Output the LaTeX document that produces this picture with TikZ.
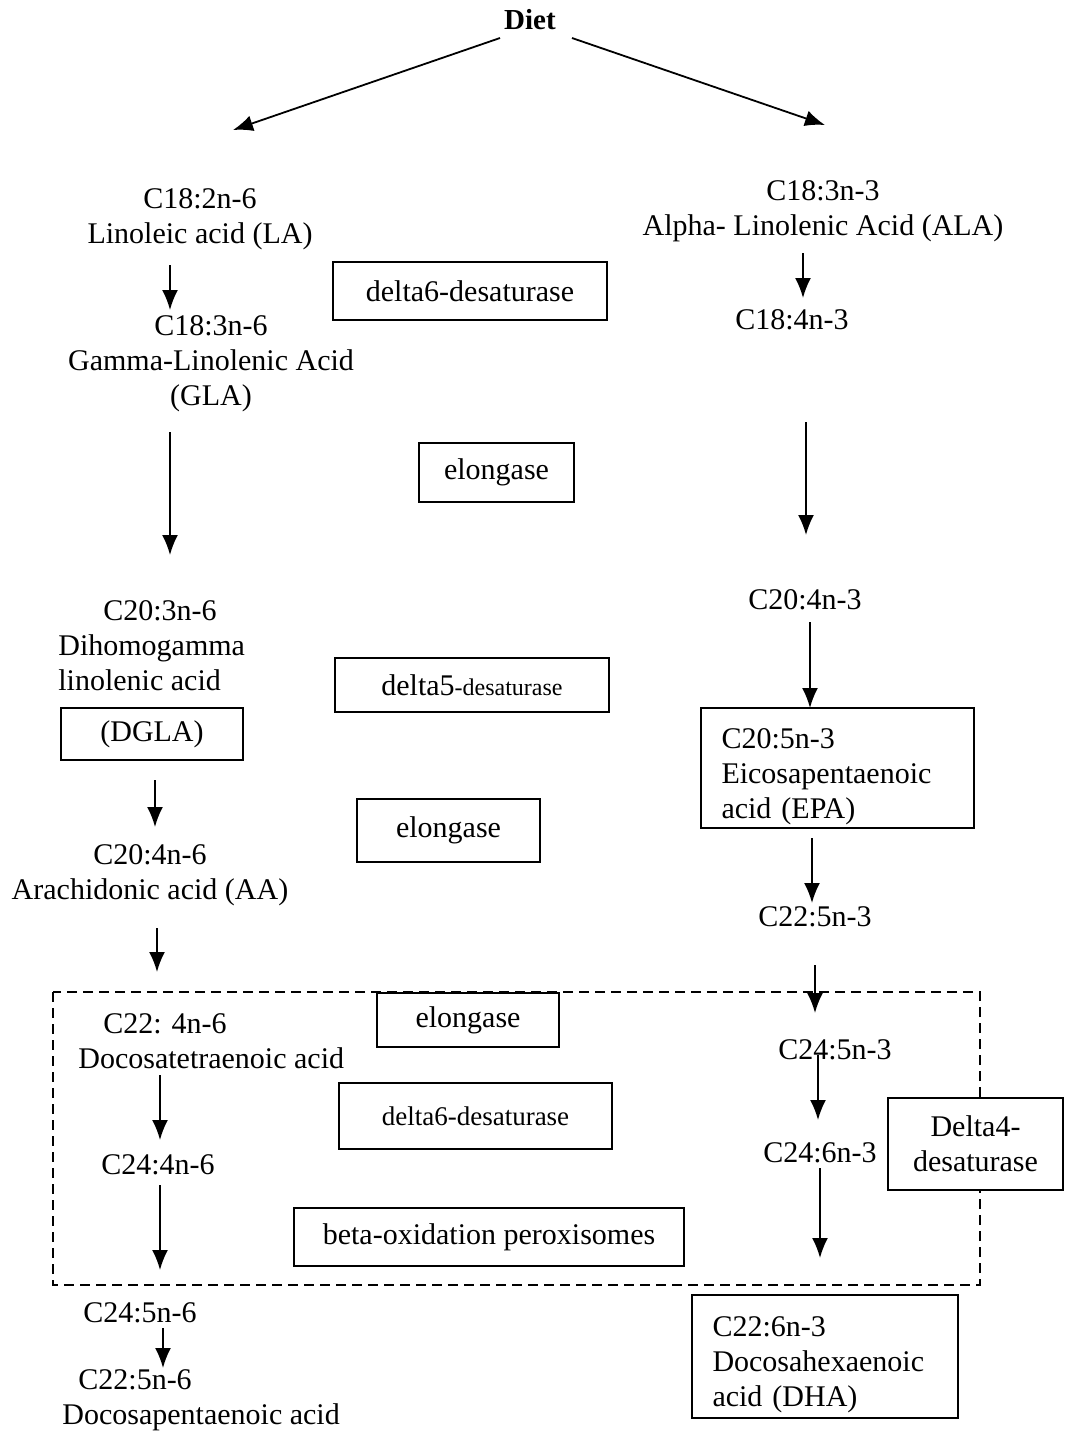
\documentclass[tikz,border=0pt]{standalone}
\usepackage{fontspec}
\setmainfont{Liberation Serif}
\usetikzlibrary{arrows.meta}
\begin{document}
\begin{tikzpicture}[x=0.5pt,y=-0.5pt,
  txt/.style={inner sep=0pt, font=\fontsize{15}{17.5}\selectfont, align=center},
  enz/.style={draw, line width=1.1pt, inner sep=0pt, fill=white, font=\fontsize{15}{17.5}\selectfont, align=center},
  arr/.style={line width=0.9pt, -{Latex[length=10pt,width=8pt]}},
  dashbox/.style={line width=1.1pt, dash pattern=on 5pt off 3pt}]
\useasboundingbox (0,0) rectangle (1065,1437);

% dashed region
\draw[dashbox] (53,992) rectangle (980,1285);

% texts
\node[txt, font=\fontsize{14.5}{17}\selectfont\bfseries] (diet) at (530,20) {Diet};
\node[txt] (la) at (200,219) {C18:2n-6\\Linoleic acid (LA)};
\node[txt] (gla) at (211,364) {C18:3n-6\\Gamma-Linolenic Acid\\(GLA)};
\node[txt] (ala) at (823,211) {C18:3n-3\\Alpha- Linolenic Acid (ALA)};
\node[txt] (c184) at (792,320) {C18:4n-3};
\node[txt, align=left, anchor=west] (dgla) at (58,646) {\hspace{22.5pt}C20:3n-6\\Dihomogamma\\linolenic acid};
\node[txt] (c204n3) at (805,600) {C20:4n-3};
\node[txt] (aa) at (150,875) {C20:4n-6\\Arachidonic acid (AA)};
\node[txt] (c225n3) at (815,917) {C22:5n-3};
\node[txt, align=left, anchor=west] (c224n6) at (78,1041) {\hspace{12.5pt}C22: 4n-6\\Docosatetraenoic acid};
\node[txt] (c244n6) at (158,1165) {C24:4n-6};
\node[txt] (c245n3) at (835,1050) {C24:5n-3};
\node[txt] (c246n3) at (820,1153) {C24:6n-3};
\node[txt] (c245n6) at (140,1313) {C24:5n-6};
\node[txt, align=left, anchor=west] (c225n6) at (62,1400) {\hspace{8pt}C22:5n-6\\Docosapentaenoic acid};

% enzyme / boxed nodes
\node[enz, minimum width=137pt, minimum height=29pt] (d6a) at (470,291) {delta6-desaturase};
\node[enz, minimum width=77.5pt, minimum height=29.5pt] (el1) at (496.5,472.5) {elongase};
\node[enz, minimum width=137pt, minimum height=27pt] (d5) at (472,685) {delta5{\fontsize{12}{14}\selectfont-desaturase}};
\node[enz, minimum width=91pt, minimum height=26pt] (dglabox) at (152,734) {(DGLA)};
\node[enz, minimum width=136.5pt, minimum height=60pt, text width=116pt, align=left, inner xsep=10pt] (epa) at (837.5,768) {\rule{0pt}{19pt}C20:5n-3\\Eicosapentaenoic\\acid (EPA)};
\node[enz, minimum width=91.5pt, minimum height=31.5pt] (el2) at (448.5,830.5) {elongase};
\node[enz, minimum width=91pt, minimum height=27pt] (el3) at (468,1020) {elongase};
\node[enz, minimum width=136.5pt, minimum height=33pt, font=\fontsize{13.5}{16}\selectfont] (d6b) at (475.5,1116) {delta6-desaturase};
\node[enz, minimum width=195pt, minimum height=29pt] (beta) at (489,1237) {beta-oxidation peroxisomes};
\node[enz, minimum width=87.5pt, minimum height=46pt] (d4) at (975.5,1144) {Delta4-\\desaturase};
\node[enz, minimum width=133pt, minimum height=61.5pt, text width=112.5pt, align=left, inner xsep=10pt] (dha) at (825,1356.5) {\rule{0pt}{18pt}C22:6n-3\\Docosahexaenoic\\acid (DHA)};

% arrow end points
\coordinate (a1s) at (500,38);  \coordinate (a1e) at (233,130);
\coordinate (a2s) at (572,38);  \coordinate (a2e) at (825,125);
\coordinate (a3s) at (170,265); \coordinate (a3e) at (170,310);
\coordinate (a4s) at (803,253); \coordinate (a4e) at (803,298);
\coordinate (a5s) at (170,432); \coordinate (a5e) at (170,555);
\coordinate (a6s) at (806,422); \coordinate (a6e) at (806,535);
\coordinate (a7s) at (810,622); \coordinate (a7e) at (810,708);
\coordinate (a8s) at (155,780); \coordinate (a8e) at (155,827);
\coordinate (a9s) at (812,838); \coordinate (a9e) at (812,903);
\coordinate (a10s) at (157,928); \coordinate (a10e) at (157,972);
\coordinate (a11s) at (815,965); \coordinate (a11e) at (815,1013);
\coordinate (a12s) at (818,1055); \coordinate (a12e) at (818,1120);
\coordinate (a13s) at (160,1075); \coordinate (a13e) at (160,1140);
\coordinate (a14s) at (160,1185); \coordinate (a14e) at (160,1270);
\coordinate (a15s) at (820,1168); \coordinate (a15e) at (820,1258);
\coordinate (a16s) at (163,1328); \coordinate (a16e) at (163,1368);

\foreach \i in {1,...,16} {\draw[arr] (a\i s) -- (a\i e);}
\end{tikzpicture}
\end{document}
